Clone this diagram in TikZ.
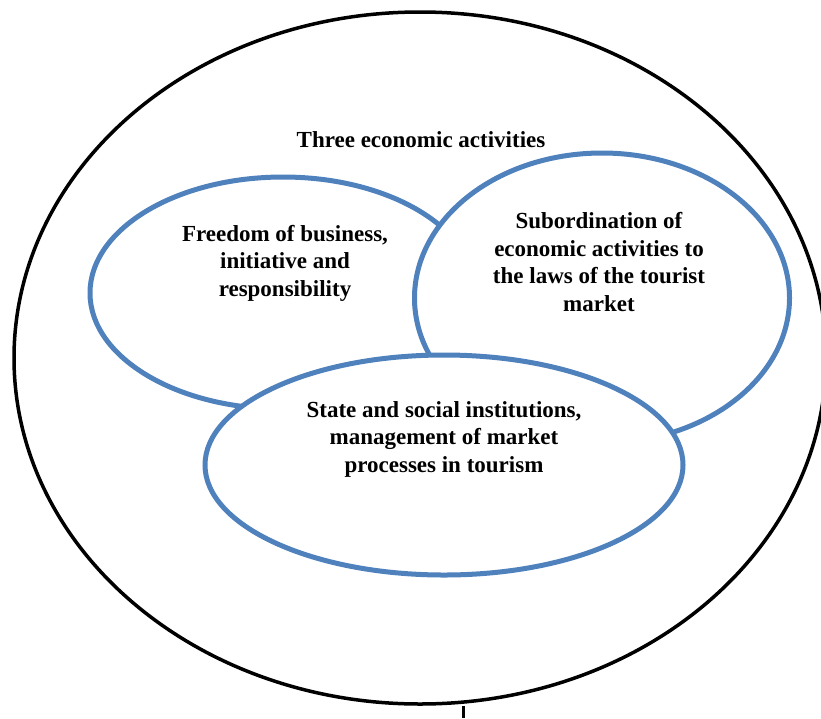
\documentclass[tikz,border=0pt]{standalone}
\usepackage{fontspec}
\setmainfont{Liberation Serif}
\usetikzlibrary{shapes.geometric}
\definecolor{ringblue}{HTML}{4F81BD}
\tikzset{
  outerring/.style={draw=black, line width=3.5pt, shape=ellipse, inner sep=0pt},
  blueoval/.style={draw=ringblue, fill=white, line width=5pt, shape=ellipse, inner sep=0pt},
  lbl/.style={align=center, text=black, inner sep=0pt, font=\fontsize{23}{27.5}\selectfont\bfseries}
}
\begin{document}
\begin{tikzpicture}[x=1pt,y=-1pt]
\useasboundingbox (0,0) rectangle (821,718);
\begin{scope}
\clip (0,0) rectangle (821,718);
\node[outerring, minimum width=812pt, minimum height=692pt] (outer) at (420,358) {};
\coordinate (tail) at (463,718);
\draw[line width=3pt] (outer.south -| tail) -- (tail);
\end{scope}
\node[blueoval, minimum width=386pt, minimum height=232pt] (left) at (283,293) {};
\node[blueoval, minimum width=375pt, minimum height=290pt] (right) at (602,298) {};
\node[blueoval, minimum width=478pt, minimum height=220pt] (bottom) at (444,465) {};
\node[lbl] (title) at (421,140) {Three economic activities};
\node[lbl] (ltext) at (285,263) {Freedom of business,\\initiative and\\responsibility};
\node[lbl] (rtext) at (599,262) {Subordination of\\economic activities to\\the laws of the tourist\\market};
\node[lbl] (btext) at (444,439) {State and social institutions,\\management of market\\processes in tourism};
\end{tikzpicture}
\end{document}
